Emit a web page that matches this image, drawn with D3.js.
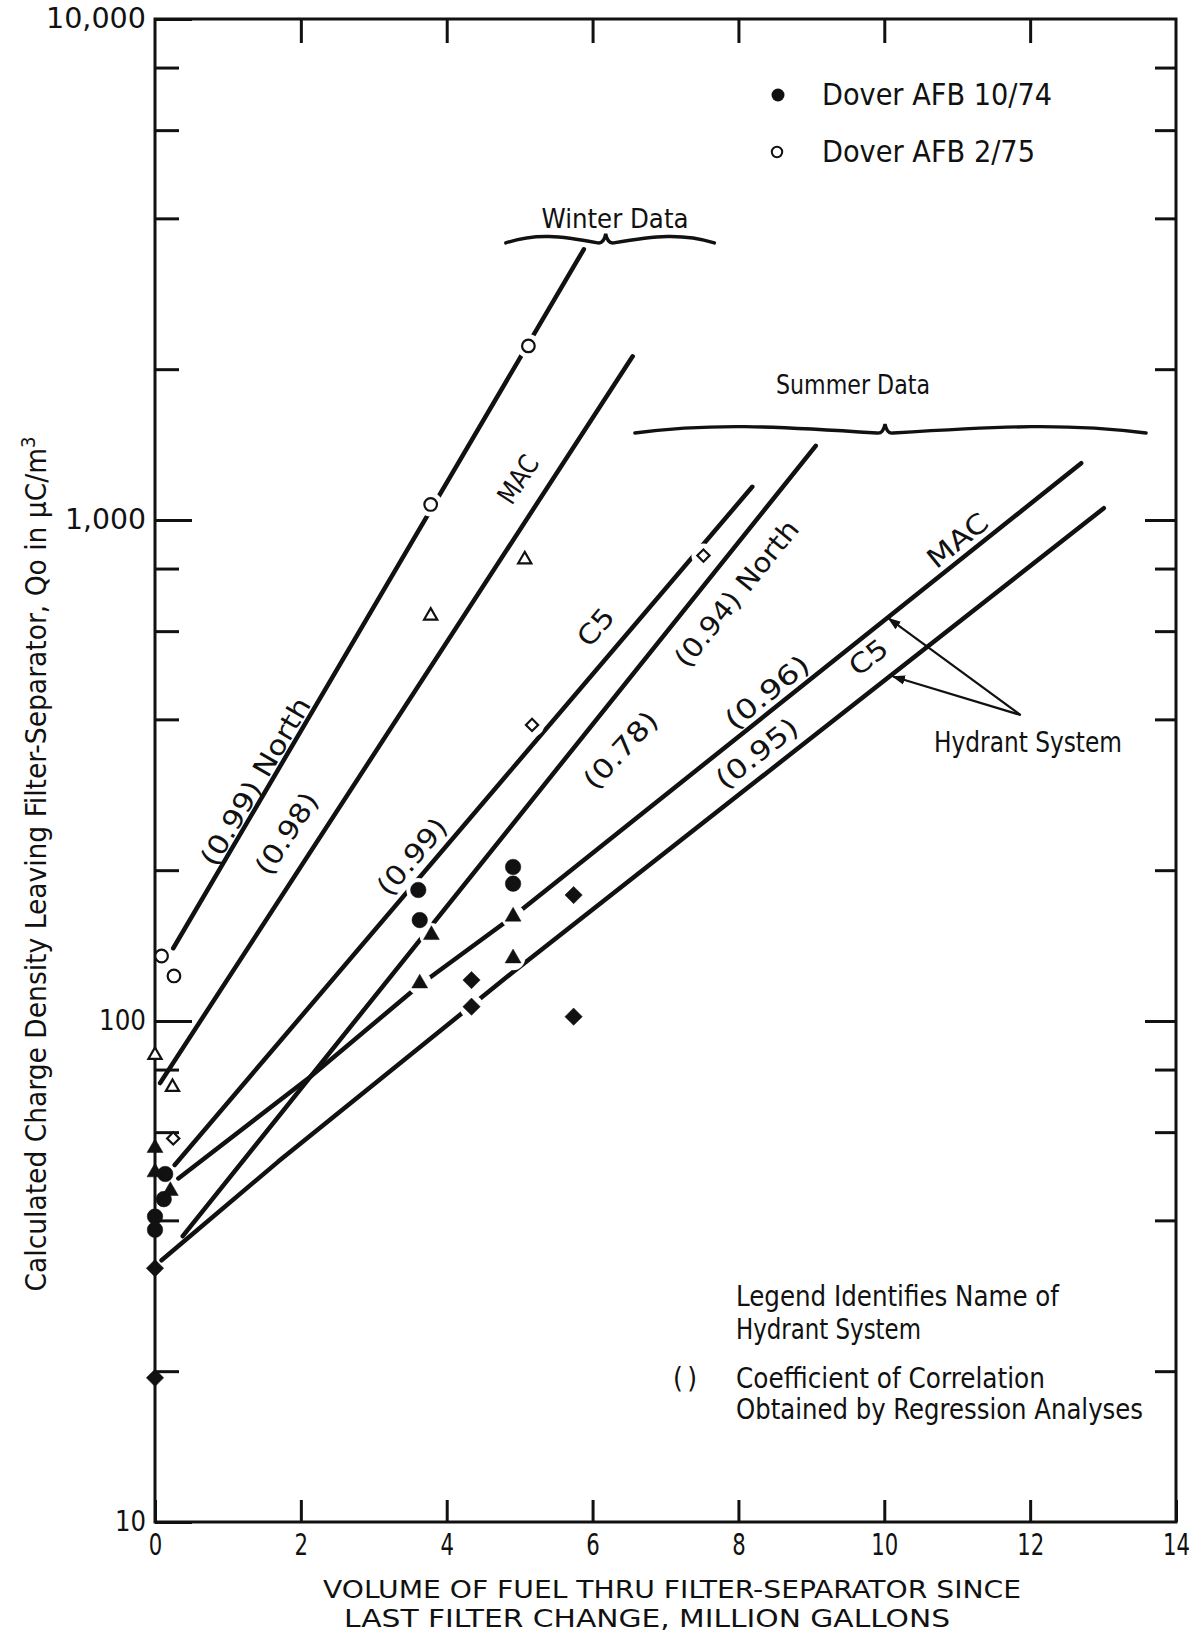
<!DOCTYPE html>
<html>
<head>
<meta charset="utf-8">
<title>Charge density leaving filter-separator vs fuel volume</title>
<script src="https://cdn.jsdelivr.net/npm/d3@7/dist/d3.min.js"></script>
<style>
  html, body { margin: 0; background: #fff; }
  svg { display: block; }
  text { font-family: "Liberation Sans Narrow", "DejaVu Sans Condensed", "Liberation Sans", "DejaVu Sans", sans-serif; fill: #111; }
</style>
</head>
<body>
<svg id="chart" width="1197" height="1633"></svg>
<script>
// ---- axis ticks -------------------------------------------------------
const xTicks = [0, 2, 4, 6, 8, 10, 12, 14];
const xTickLabels = ["0", "2", "4", "6", "8", "10", "12", "14"];
const yMajorTicks = [10, 100, 1000, 10000];
const yMajorLabels = ["10", "100", "1,000", "10,000"];
const yMinorTicks = [20, 40, 60, 80, 200, 400, 600, 800, 2000, 4000, 6000, 8000];

// ---- observations: [million gallons, Qo in uC/m3] ----------------------
// Dover AFB 10/74 (filled symbols)
const oct74Circles   = [[0, 40.7], [0, 38.3], [0.14, 49.5], [0.12, 44.1], [3.61, 182.6], [3.63, 159], [4.91, 203], [4.91, 188]];
const oct74Triangles = [[0, 55.8], [0, 49.9], [0.21, 45.8], [3.79, 148.5], [3.63, 118.9], [4.91, 161.6], [4.91, 133.4]];
const oct74Diamonds  = [[0, 32.1], [0, 19.4], [4.34, 120.7], [4.34, 106.8], [5.74, 178.4], [5.74, 102]];
// Dover AFB 2/75 (open symbols)
const feb75Circles   = [[0.09, 134.8], [0.26, 123], [3.78, 1074], [5.12, 2226]];
const feb75Triangles = [[0, 85.5], [0.24, 73.8], [3.78, 644], [5.07, 834]];
const feb75Diamonds  = [[0.25, 58.3], [5.17, 390], [7.52, 849]];

// ---- regression lines -------------------------------------------------
const winterNorth = [[0.25, 139.7], [5.88, 3470]];
const winterMac   = [[0.07, 75.2], [6.55, 2122]];
const summerC5    = [[0.27, 51.6], [8.19, 1165]];
const summerNorth = [[0.38, 37.2], [9.06, 1406]];
const hydrantMac  = [[0.32, 48.5], [2.13, 77.4], [3.63, 118], [4.91, 161.6], [12.70, 1298]];
const hydrantC5   = [[0.09, 33.3], [1.69, 52.4], [4.91, 125.3], [13.01, 1055.5]];

// ---- line labels (system names and correlation coefficients) ----------
const lineNoteText = ["(0.99) North", "(0.98)", "MAC", "(0.99)", "C5", "(0.94) North", "(0.78)", "(0.96)", "MAC", "(0.95)", "C5"];
const lineNoteAt   = [[1.375, 300.8], [1.80, 236.9], [4.975, 1206], [3.52, 213], [6.04, 612], [7.97, 714], [6.38, 347.6], [8.39, 453.6], [11.0, 912], [8.25, 342.8], [9.78, 532.7]];
const lineNoteAngle = [-59.6, -57, -57, -49.6, -49.6, -51, -47, -39, -39, -38, -38];
const lineNoteWidth = [190, 92, 52, 92, 41, 180, 95, 100, 70, 96, 41];

// ---- chart ------------------------------------------------------------
const ink = "#111";
const svg = d3.select("#chart");
svg.append("rect").attr("width", 1197).attr("height", 1633).attr("fill", "#fff");

const x = d3.scaleLinear().domain([0, 14]).range([155, 1176]);
const y = d3.scaleLog().domain([10, 10000]).range([1522, 19]);
const [X0, X1] = x.range();
const [Y0, Y1] = y.range();

const defs = svg.append("defs");
defs.append("marker")
  .attr("id", "arrowhead").attr("viewBox", "0 0 10 10")
  .attr("refX", 9).attr("refY", 5)
  .attr("markerWidth", 6).attr("markerHeight", 6)
  .attr("orient", "auto")
  .append("path").attr("d", "M0,1.5 L10,5 L0,8.5 z").attr("fill", ink);

// regression lines
const lineGen = d3.line().x(d => x(d[0])).y(d => y(d[1]));
svg.append("g")
  .attr("fill", "none").attr("stroke", ink).attr("stroke-width", 4.5)
  .attr("stroke-linecap", "round").attr("stroke-linejoin", "round")
  .selectAll("path")
  .data([winterNorth, winterMac, summerC5, summerNorth, hydrantMac, hydrantC5])
  .join("path").attr("d", lineGen);

// white gaps where the lines pass the plotted points
const interior = [oct74Circles, oct74Triangles, oct74Diamonds, feb75Circles, feb75Triangles, feb75Diamonds]
  .flat().filter(d => d[0] > 1);
svg.append("g").selectAll("circle").data(interior).join("circle")
  .attr("cx", d => x(d[0])).attr("cy", d => y(d[1])).attr("r", 12).attr("fill", "#fff");

// frame and ticks
const tickStyle = g => {
  g.select(".domain").remove();
  g.selectAll(".tick line").attr("stroke", ink).attr("stroke-width", 3);
};
const noLabel = () => "";

svg.append("g").attr("transform", `translate(${X0},0)`)
  .call(d3.axisLeft(y).tickValues(yMinorTicks).tickSize(-24).tickFormat(noLabel)).call(tickStyle);
svg.append("g").attr("transform", `translate(${X0},0)`)
  .call(d3.axisLeft(y).tickValues(yMajorTicks).tickSizeInner(-37).tickSizeOuter(0).tickPadding(9)
    .tickFormat((d, i) => yMajorLabels[i]))
  .call(tickStyle)
  .call(g => g.selectAll("text")
    .attr("font-size", 28).attr("fill", ink)
    .attr("textLength", d => ({10: 31, 100: 47, 1000: 81, 10000: 100})[d])
    .attr("lengthAdjust", "spacingAndGlyphs"));

svg.append("g").attr("transform", `translate(${X1},0)`)
  .call(d3.axisRight(y).tickValues(yMinorTicks).tickSize(-21).tickFormat(noLabel)).call(tickStyle);
svg.append("g").attr("transform", `translate(${X1},0)`)
  .call(d3.axisRight(y).tickValues([100, 1000]).tickSize(-31).tickFormat(noLabel)).call(tickStyle);

svg.append("g").attr("transform", `translate(0,${Y1})`)
  .call(d3.axisTop(x).tickValues(xTicks.slice(1, -1)).tickSize(-24).tickFormat(noLabel)).call(tickStyle);
svg.append("g").attr("transform", `translate(0,${Y0})`)
  .call(d3.axisBottom(x).tickValues(xTicks).tickSizeInner(-22).tickSizeOuter(0).tickPadding(12)
    .tickFormat((d, i) => xTickLabels[i]))
  .call(tickStyle)
  .call(g => g.selectAll("text")
    .attr("font-size", 30).attr("fill", ink)
    .attr("textLength", (d, i) => 13.5 * xTickLabels[i].length)
    .attr("lengthAdjust", "spacingAndGlyphs"));

svg.append("rect")
  .attr("x", X0).attr("y", Y1).attr("width", X1 - X0).attr("height", Y0 - Y1)
  .attr("fill", "none").attr("stroke", ink).attr("stroke-width", 3);

// plotted points
const circleSym = d3.symbol(d3.symbolCircle);
const triSym = d3.symbol(d3.symbolTriangle);
const diaSym = d3.symbol(d3.symbolSquare);
function plot(data, sym, size, filled, rotate) {
  svg.append("g").selectAll("path").data(data).join("path")
    .attr("d", sym.size(size)())
    .attr("transform", d => `translate(${x(d[0])},${y(d[1])})${rotate ? " rotate(45)" : ""}`)
    .attr("fill", filled ? ink : "#fff")
    .attr("stroke", ink)
    .attr("stroke-width", filled ? 0.5 : 2.2);
}
plot(oct74Circles, circleSym, 190, true, false);
plot(oct74Triangles, triSym, 110, true, false);
plot(oct74Diamonds, diaSym, 150, true, true);
plot(feb75Circles, circleSym, 125, false, false);
plot(feb75Triangles, triSym, 75, false, false);
plot(feb75Diamonds, diaSym, 75, false, true);

// labels along the lines
svg.append("g").selectAll("text").data(lineNoteText).join("text")
  .attr("transform", (d, i) => `translate(${x(lineNoteAt[i][0])},${y(lineNoteAt[i][1])}) rotate(${lineNoteAngle[i]})`)
  .attr("text-anchor", "middle").attr("dy", "0.36em")
  .attr("font-size", 27)
  .attr("textLength", (d, i) => lineNoteWidth[i]).attr("lengthAdjust", "spacingAndGlyphs")
  .text(d => d);

// season braces
function bracePath(xl, xc, xr, yb) {
  const d1 = xc - xl, d2 = xr - xc;
  return `M${xl},${yb + 3} C${xl + 0.3 * d1},${yb - 7} ${xc - 0.45 * d1},${yb - 4} ${xc - 8},${yb + 3}` +
         ` Q${xc - 2},${yb + 4} ${xc},${yb - 6} Q${xc + 2},${yb + 4} ${xc + 8},${yb + 3}` +
         ` C${xc + 0.45 * d2},${yb - 4} ${xr - 0.3 * d2},${yb - 7} ${xr},${yb + 3}`;
}
const braces = [
  {label: "Winter Data", from: 4.81, mid: 6.18, to: 7.67, level: 3623, textAt: 615, textY: 228, w: 147},
  {label: "Summer Data", from: 6.58, mid: 10.01, to: 13.59, level: 1512, textAt: 853, textY: 394, w: 154}
];
braces.forEach(b => {
  svg.append("path")
    .attr("d", bracePath(x(b.from), x(b.mid), x(b.to), y(b.level)))
    .attr("fill", "none").attr("stroke", ink).attr("stroke-width", 3.4).attr("stroke-linecap", "round");
  svg.append("text")
    .attr("x", b.textAt).attr("y", b.textY).attr("text-anchor", "middle")
    .attr("font-size", 27).attr("textLength", b.w).attr("lengthAdjust", "spacingAndGlyphs")
    .text(b.label);
});

// hydrant system callout
const calloutFrom = [11.87, 408];
const calloutTo = [[10.06, 636], [10.12, 487]];
svg.append("g").selectAll("line").data(calloutTo).join("line")
  .attr("x1", x(calloutFrom[0])).attr("y1", y(calloutFrom[1]))
  .attr("x2", d => x(d[0])).attr("y2", d => y(d[1]))
  .attr("stroke", ink).attr("stroke-width", 2.2)
  .attr("marker-end", "url(#arrowhead)");
svg.append("text").attr("x", 934).attr("y", 752)
  .attr("font-size", 28).attr("textLength", 188).attr("lengthAdjust", "spacingAndGlyphs")
  .text("Hydrant System");

// legend
const legend = svg.append("g");
legend.append("circle").attr("cx", 778).attr("cy", 95).attr("r", 6.5).attr("fill", ink);
legend.append("circle").attr("cx", 777).attr("cy", 152).attr("r", 5.2).attr("fill", "#fff").attr("stroke", ink).attr("stroke-width", 2);
legend.append("text").attr("x", 822).attr("y", 105).attr("font-size", 30)
  .attr("textLength", 230).attr("lengthAdjust", "spacingAndGlyphs").text("Dover AFB 10/74");
legend.append("text").attr("x", 822).attr("y", 162).attr("font-size", 30)
  .attr("textLength", 213).attr("lengthAdjust", "spacingAndGlyphs").text("Dover AFB 2/75");

// notes
const notes = [
  {t: "Legend Identifies Name of", x: 736, y: 1306, w: 323},
  {t: "Hydrant System", x: 736, y: 1339, w: 185},
  {t: "( )", x: 673, y: 1388, w: 24},
  {t: "Coefficient of Correlation", x: 736, y: 1388, w: 309},
  {t: "Obtained by Regression Analyses", x: 736, y: 1419, w: 407}
];
svg.append("g").selectAll("text").data(notes).join("text")
  .attr("x", d => d.x).attr("y", d => d.y).attr("font-size", 28)
  .attr("textLength", d => d.w).attr("lengthAdjust", d => d.t === "( )" ? "spacing" : "spacingAndGlyphs")
  .text(d => d.t);

// axis titles
svg.append("text").attr("x", 672).attr("y", 1598).attr("text-anchor", "middle")
  .attr("font-size", 24).attr("textLength", 698).attr("lengthAdjust", "spacingAndGlyphs")
  .text("VOLUME OF FUEL THRU FILTER-SEPARATOR SINCE");
svg.append("text").attr("x", 647).attr("y", 1627).attr("text-anchor", "middle")
  .attr("font-size", 24).attr("textLength", 606).attr("lengthAdjust", "spacingAndGlyphs")
  .text("LAST FILTER CHANGE, MILLION GALLONS");

const yTitle = svg.append("text")
  .attr("transform", "translate(46,864) rotate(-90)")
  .attr("text-anchor", "middle").attr("font-size", 28)
  .attr("textLength", 855).attr("lengthAdjust", "spacingAndGlyphs");
yTitle.append("tspan").text("Calculated Charge Density Leaving Filter-Separator, Qo in \u03BCC/m");
yTitle.append("tspan").attr("dy", -11).attr("font-size", 19).text("3");
</script>
</body>
</html>
